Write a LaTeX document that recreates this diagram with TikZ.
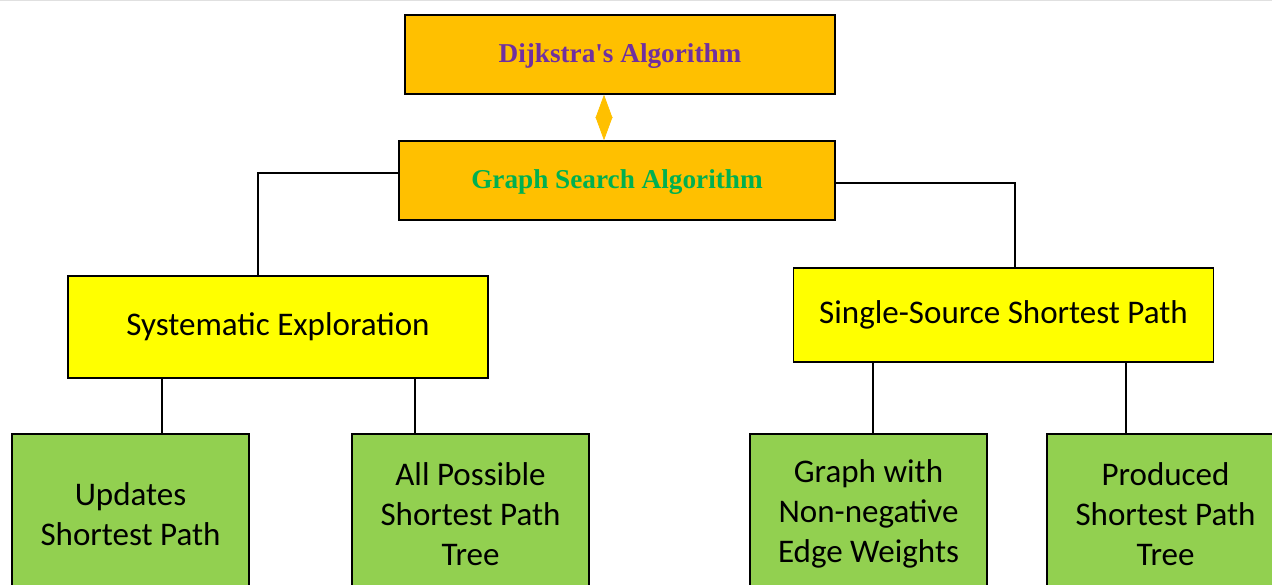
\documentclass[tikz,border=0pt]{standalone}
\usepackage{fontspec}
\setmainfont{Carlito}
\newfontfamily\titlefont{Liberation Serif}
\usetikzlibrary{arrows.meta,positioning}

\definecolor{gold}{HTML}{FFC000}
\definecolor{lemon}{HTML}{FFFF00}
\definecolor{leafgreen}{HTML}{92D050}
\definecolor{algpurple}{HTML}{7030A0}
\definecolor{alggreen}{HTML}{00B050}

\begin{document}
\begin{tikzpicture}[x=0.02cm, y=-0.02cm,
    box/.style={draw=black, line width=0.8pt, inner sep=0pt, align=center},
    topbox/.style={box, fill=gold, minimum height=1.58cm, text height=9pt, text depth=0pt,
        font=\titlefont\bfseries\fontsize{15.5}{18}\selectfont},
    midbox/.style={box, fill=lemon, minimum width=8.4cm,
        font=\fontsize{18.8}{22.7}\selectfont},
    leafbox/.style={box, fill=leafgreen, minimum width=4.74cm, minimum height=3.2cm,
        font=\fontsize{18.8}{22.7}\selectfont},
    link/.style={draw=black, line width=0.8pt}]
    \useasboundingbox (0,0) rectangle (1272,585);
    \clip (0,0) rectangle (1272,585);
    \draw[black!12, line width=1pt] (0,0.5) -- (1272,0.5);

    \node[topbox, minimum width=8.6cm, text=algpurple] (dij) at (620,54.5) {Dijkstra's Algorithm};
    \node[topbox, minimum width=8.72cm, text=alggreen] (gsa) at (617,180.5) {Graph Search Algorithm};

    \node[midbox, minimum height=2.04cm] (sys) at (278,327) {Systematic Exploration};
    \node[midbox, minimum height=1.88cm] (ssp) at (1003.5,315) {Single-Source Shortest Path};

    \node[leafbox] (upd) at (130.5,514) {Updates\\Shortest Path};
    \node[leafbox] (all) at (470.5,514) {All Possible\\Shortest Path\\Tree};
    \node[leafbox] (gnw) at (868.5,514) {Graph with\\Non-negative\\Edge Weights};
    \node[leafbox] (pro) at (1165.5,514) {Produced\\Shortest Path\\Tree};

    % two-way link between the top boxes
    \draw[gold, line width=0.4pt, {Triangle[length=0.47cm,width=0.34cm]}-{Triangle[length=0.47cm,width=0.34cm]}]
        ([xshift=-0.32cm]dij.south) -- ([xshift=-0.32cm]dij.south |- gsa.north);

    \draw[link] ([yshift=0.15cm]gsa.west) -| ([xshift=-0.4cm]sys.north);
    \draw[link] ([yshift=-0.05cm]gsa.east) -| ([xshift=0.23cm]ssp.north);

    \draw[link] ([xshift=0.63cm]upd.north) -- ([xshift=0.63cm]upd.north |- sys.south);
    \draw[link] ([xshift=-1.11cm]all.north) -- ([xshift=-1.11cm]all.north |- sys.south);
    \draw[link] ([xshift=0.09cm]gnw.north) -- ([xshift=0.09cm]gnw.north |- ssp.south);
    \draw[link] ([xshift=-0.79cm]pro.north) -- ([xshift=-0.79cm]pro.north |- ssp.south);
\end{tikzpicture}
\end{document}
